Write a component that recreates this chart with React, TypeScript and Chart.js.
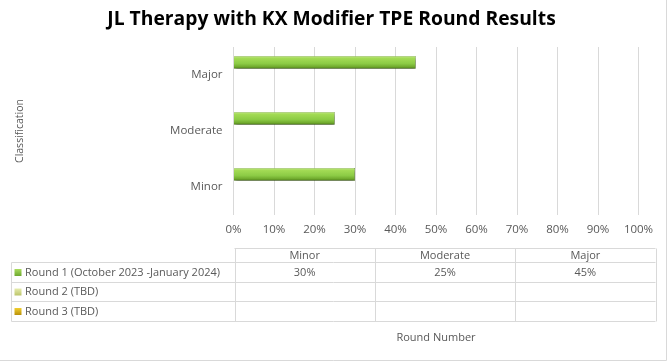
import React, { useEffect, useRef } from "react";
import { Chart, registerables } from "chart.js";

Chart.register(...registerables);

const title = "JL Therapy with KX Modifier TPE Round Results";
const categories = ["Major", "Moderate", "Minor"];
const tableColumns = ["Minor", "Moderate", "Major"];
const seriesNames = ["Round 1 (October 2023 -January 2024)", "Round 2 (TBD)", "Round 3 (TBD)"];
const round1 = [45, 25, 30];
const round2: (number | null)[] = [null, null, null];
const round3: (number | null)[] = [null, null, null];
const xTicks = [0, 10, 20, 30, 40, 50, 60, 70, 80, 90, 100];
const yAxisTitle = "Classification";
const xAxisTitle = "Round Number";

const FONT = "'Open Sans', 'Liberation Sans', sans-serif";
const TEXT = "#595959";
const GRID = "#d9d9d9";

const tablePlugin = {
  id: "tablePlugin",
  beforeDatasetsDraw(chart: any) {
    const ctx = chart.ctx;
    chart.data.datasets.forEach((ds: any, di: number) => {
      const meta = chart.getDatasetMeta(di);
      meta.data.forEach((el: any) => {
        if (el.y == null || isNaN(el.y)) return;
        const h = el.height || 11;
        const g = ctx.createLinearGradient(0, el.y - h / 2, 0, el.y + h / 2);
        if (di === 0) {
          g.addColorStop(0, "#c4e88a");
          g.addColorStop(0.18, "#a3db55");
          g.addColorStop(0.6, "#8ccb45");
          g.addColorStop(0.85, "#70aa2e");
          g.addColorStop(1, "#4c7e18");
        } else if (di === 1) {
          g.addColorStop(0, "#eef3c0");
          g.addColorStop(1, "#c9d27a");
        } else {
          g.addColorStop(0, "#f6dc5a");
          g.addColorStop(1, "#c89a00");
        }
        try {
          el.options.backgroundColor = g;
        } catch (e) {}
      });
    });
    ctx.save();
    ctx.shadowColor = "rgba(0,0,0,0.5)";
    ctx.shadowBlur = 3;
    ctx.shadowOffsetX = 1;
    ctx.shadowOffsetY = 2;
  },
  afterDatasetsDraw(chart: any) {
    chart.ctx.restore();
  },
  afterDraw(chart: any) {
    const ctx = chart.ctx;
    const area = chart.chartArea;
    ctx.save();
    // chart title
    ctx.fillStyle = "#000000";
    ctx.font = `bold 19.3px ${FONT}`;
    ctx.textAlign = "center";
    ctx.textBaseline = "middle";
    ctx.fillText(title, 331.5, 20);

    // y axis title
    ctx.fillStyle = TEXT;
    ctx.font = `10.5px ${FONT}`;
    ctx.save();
    ctx.translate(20, 131);
    ctx.rotate(-Math.PI / 2);
    ctx.fillText(yAxisTitle, 0, 0);
    ctx.restore();

    // data table
    const left = 11.5;
    const c0 = Math.round(area.left) + 0.5;
    const right = 655.5;
    const colW = (right - c0) / tableColumns.length;
    const rows = [248.5, 262.5, 282.5, 301.5, 321.5];
    ctx.strokeStyle = GRID;
    ctx.lineWidth = 1;
    ctx.beginPath();
    ctx.moveTo(c0, rows[0]);
    ctx.lineTo(right, rows[0]);
    for (let i = 1; i < rows.length; i++) {
      ctx.moveTo(left, rows[i]);
      ctx.lineTo(right, rows[i]);
    }
    ctx.moveTo(left, rows[1]);
    ctx.lineTo(left, rows[4]);
    for (let c = 0; c <= tableColumns.length; c++) {
      const x = Math.round(c0 + c * colW) + 0.5;
      ctx.moveTo(x, rows[0]);
      ctx.lineTo(x, rows[4]);
    }
    ctx.stroke();

    ctx.font = `11px ${FONT}`;
    ctx.fillStyle = TEXT;
    ctx.textAlign = "center";
    tableColumns.forEach((name, c) => {
      ctx.fillText(name, c0 + (c + 0.5) * colW, (rows[0] + rows[1]) / 2);
    });
    const seriesData = [round1, round2, round3];
    const keyColors = [
      ["#a9dc5e", "#6ea82f"],
      ["#e6ecae", "#bcc56a"],
      ["#f2cf30", "#b8900a"],
    ];
    seriesNames.forEach((name, r) => {
      const cy = (rows[r + 1] + rows[r + 2]) / 2;
      const g = ctx.createLinearGradient(0, cy - 3.5, 0, cy + 3.5);
      g.addColorStop(0, keyColors[r][0]);
      g.addColorStop(1, keyColors[r][1]);
      ctx.fillStyle = g;
      ctx.fillRect(14.5, cy - 3.5, 7, 7);
      ctx.fillStyle = TEXT;
      ctx.textAlign = "left";
      ctx.fillText(name, 25, cy);
      ctx.textAlign = "center";
      const vals = seriesData[r];
      tableColumns.forEach((col, c) => {
        const idx = categories.indexOf(col);
        const v = vals[idx];
        if (v != null) ctx.fillText(`${v}%`, c0 + (c + 0.5) * colW, cy);
      });
    });

    // x axis title
    ctx.fillText(xAxisTitle, (area.left + area.right) / 2, 338);

    // outer border (right & bottom)
    ctx.strokeStyle = GRID;
    ctx.beginPath();
    ctx.moveTo(666.5, 0);
    ctx.lineTo(666.5, 360.5);
    ctx.lineTo(0, 360.5);
    ctx.stroke();
    ctx.restore();
  },
};

export default function App() {
  const ref = useRef<HTMLCanvasElement>(null);
  useEffect(() => {
    document.body.style.margin = "0";
    const canvas = ref.current!;
    const chart = new Chart(canvas, {
      type: "bar",
      data: {
        labels: categories,
        datasets: [
          {
            label: seriesNames[0],
            data: round1,
            backgroundColor: () => "#92d050",
            borderColor: "#5f8f25",
            borderWidth: 0.6,
          },
          {
            label: seriesNames[1],
            data: round2 as any,
            backgroundColor: () => "#d8e08c",
            borderWidth: 0,
          },
          {
            label: seriesNames[2],
            data: round3 as any,
            backgroundColor: () => "#e6b800",
            borderWidth: 0,
          },
        ],
      },
      options: {
        indexAxis: "y",
        animation: false,
        responsive: false,
        maintainAspectRatio: false,
        devicePixelRatio: 1,
        datasets: {
          bar: { categoryPercentage: 0.68, barPercentage: 1 },
        },
        layout: { padding: { left: 8, right: 33.5, top: 47, bottom: 119 } },
        plugins: {
          legend: { display: false },
          tooltip: { enabled: false },
          title: { display: false },
        },
        scales: {
          x: {
            min: 0,
            max: 100,
            afterFit: (s: any) => {
              s.height = 30;
            },
            afterBuildTicks: (s: any) => {
              s.ticks = xTicks.map((v) => ({ value: v }));
            },
            grid: { color: GRID, drawTicks: false, lineWidth: 1 },
            border: { display: false },
            ticks: {
              color: TEXT,
              font: { family: FONT, size: 11.5 },
              padding: 8,
              maxRotation: 0,
              callback: (v: any) => `${v}%`,
            },
          },
          y: {
            afterFit: (s: any) => {
              s.width = 225.5;
            },
            grid: { display: false, drawTicks: false },
            border: { display: false },
            ticks: {
              color: TEXT,
              font: { family: FONT, size: 11.5 },
              padding: 11,
            },
          },
        },
      },
      plugins: [tablePlugin],
    });
    return () => chart.destroy();
  }, []);
  return <canvas ref={ref} width={672} height={364} style={{ display: "block" }} />;
}
